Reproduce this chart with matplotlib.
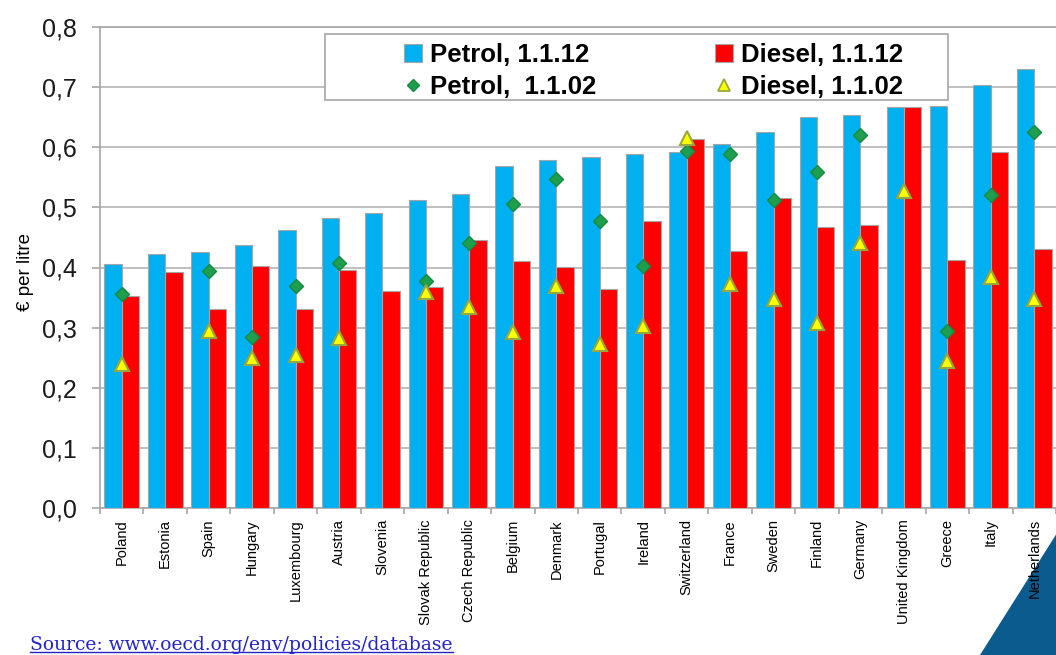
import numpy as np
import matplotlib
matplotlib.use("Agg")
import matplotlib.pyplot as plt
from matplotlib.patches import Rectangle, Polygon, Patch
from matplotlib.lines import Line2D
from matplotlib.ticker import FuncFormatter, FixedLocator

nan = np.nan

# data (euro per litre)
countries = ['Poland', 'Estonia', 'Spain', 'Hungary', 'Luxembourg', 'Austria', 'Slovenia',
             'Slovak Republic', 'Czech Republic', 'Belgium', 'Denmark', 'Portugal', 'Ireland',
             'Switzerland', 'France', 'Sweden', 'Finland', 'Germany', 'United Kingdom',
             'Greece', 'Italy', 'Netherlands']
petrol_2012 = [0.406, 0.422, 0.425, 0.438, 0.462, 0.482, 0.490, 0.513, 0.522, 0.569, 0.578,
               0.583, 0.588, 0.592, 0.606, 0.625, 0.650, 0.653, 0.667, 0.669, 0.704, 0.730]
diesel_2012 = [0.352, 0.392, 0.331, 0.403, 0.331, 0.396, 0.361, 0.368, 0.445, 0.410, 0.401,
               0.365, 0.478, 0.613, 0.428, 0.515, 0.468, 0.470, 0.667, 0.412, 0.592, 0.431]
petrol_2002 = [0.356, nan, 0.394, 0.284, 0.370, 0.408, nan, 0.378, 0.441, 0.506, 0.548,
               0.478, 0.402, 0.593, 0.588, 0.513, 0.559, 0.621, nan, 0.295, 0.520, 0.625]
diesel_2002 = [0.240, nan, 0.294, 0.249, 0.254, 0.283, nan, 0.360, 0.334, 0.293, 0.369,
               0.273, 0.303, 0.615, 0.373, 0.348, 0.307, 0.441, 0.527, 0.245, 0.384, 0.347]
yticks = [0.0, 0.1, 0.2, 0.3, 0.4, 0.5, 0.6, 0.7, 0.8]

plt.rcParams['font.family'] = ['Liberation Sans', 'DejaVu Sans']

W, H = 1056, 655
fig = plt.figure(figsize=(W / 100, H / 100), dpi=100)
ax = fig.add_axes([100 / W, (H - 508) / H, 956 / W, 481 / H])

x = np.arange(len(countries))
bw = 0.4
grey = '#A6A6A6'

ax.bar(x - bw / 2, petrol_2012, bw, color='#00B0F0', edgecolor=grey, linewidth=0.8, zorder=3)
ax.bar(x + bw / 2, diesel_2012, bw, color='#FF0000', edgecolor=grey, linewidth=0.8, zorder=3)
ax.plot(x, petrol_2002, linestyle='none', marker='D', markersize=7,
        markerfacecolor='#1E9E4E', markeredgecolor='#178A40', zorder=4)
ax.plot(x, diesel_2002, linestyle='none', marker='^', markersize=10,
        markerfacecolor='#FFFF00', markeredgecolor='#98A83C', markeredgewidth=1.5, zorder=5)

ax.set_xlim(-0.5, len(countries) - 0.5)
ax.set_ylim(0, 0.8)
ax.set_yticks(yticks)
ax.yaxis.set_major_formatter(FuncFormatter(lambda v, p: f"{v:.1f}".replace('.', ',')))
ax.grid(axis='y', color='#B4B4B4', linewidth=1.2, zorder=0)
ax.set_axisbelow(True)
for s in ['top', 'left', 'bottom']:
    ax.spines[s].set_color(grey)
    ax.spines[s].set_linewidth(1.2)
ax.spines['right'].set_visible(False)

ax.tick_params(axis='y', direction='out', length=6, width=1.2, color=grey, pad=11,
               labelsize=18, labelcolor='#1a1a1a')

ax.set_xticks(x)
ax.set_xticklabels(countries, rotation=90, ha='center', va='top', fontsize=10.5)
ax.tick_params(axis='x', which='major', length=0, pad=8)
ax.xaxis.set_minor_locator(FixedLocator(np.arange(-0.5, len(countries), 1.0)))
ax.tick_params(axis='x', which='minor', direction='out', length=4, width=1.2, color=grey)

ax.set_ylabel('€ per litre', fontsize=13.5)
ax.yaxis.set_label_coords(-66 / 956, 0.49)

# legend box
box = Rectangle((325 / W, (H - 100) / H), 623 / W, 66 / H, transform=fig.transFigure,
                facecolor='white', edgecolor=grey, linewidth=1.2, zorder=6, clip_on=False)
ax.add_patch(box)

lfont = {'weight': 'bold', 'size': 18.5}
h_pb = Patch(facecolor='#00B0F0', edgecolor=grey, linewidth=0.8)
h_db = Patch(facecolor='#FF0000', edgecolor=grey, linewidth=0.8)
h_pm = Line2D([], [], linestyle='none', marker='D', markersize=6,
              markerfacecolor='#1E9E4E', markeredgecolor='#178A40')
h_dm = Line2D([], [], linestyle='none', marker='^', markersize=8,
              markerfacecolor='#FFFF00', markeredgecolor='#98A83C', markeredgewidth=1.3)

legend_kw = dict(prop=lfont, frameon=False, loc='upper left', bbox_transform=fig.transFigure,
                 borderpad=0, handlelength=0.7, handleheight=0.7, handletextpad=0.3,
                 labelspacing=0.3)
leg1 = ax.legend([h_pb, h_pm], ['Petrol, 1.1.12', 'Petrol,  1.1.02'],
                 bbox_to_anchor=(391 / W, (H - 30) / H), **legend_kw)
leg1.set_zorder(7)
ax.add_artist(leg1)
leg2 = ax.legend([h_db, h_dm], ['Diesel, 1.1.12', 'Diesel, 1.1.02'],
                 bbox_to_anchor=(702 / W, (H - 30) / H), **legend_kw)
leg2.set_zorder(7)

# corner decoration
tri = Polygon([(980 / W, 0), (1 + 1 / W, (H - 533) / H), (1 + 1 / W, 0)],
              transform=fig.transFigure, facecolor='#0B5B8E', edgecolor='none', zorder=-1)
fig.patches.append(tri)

src = fig.text(30 / W, 5 / H, 'Source: www.oecd.org/env/policies/database',
               fontsize=13.5, family=['DejaVu Serif'],
               color='#2323C8', ha='left', va='baseline')
fig.canvas.draw()
bb = src.get_window_extent()
fig.add_artist(Line2D([bb.x0 / W, bb.x1 / W], [3 / H, 3 / H], color='#2323C8',
                      linewidth=1, transform=fig.transFigure))

fig.savefig('out.png', dpi=100)
